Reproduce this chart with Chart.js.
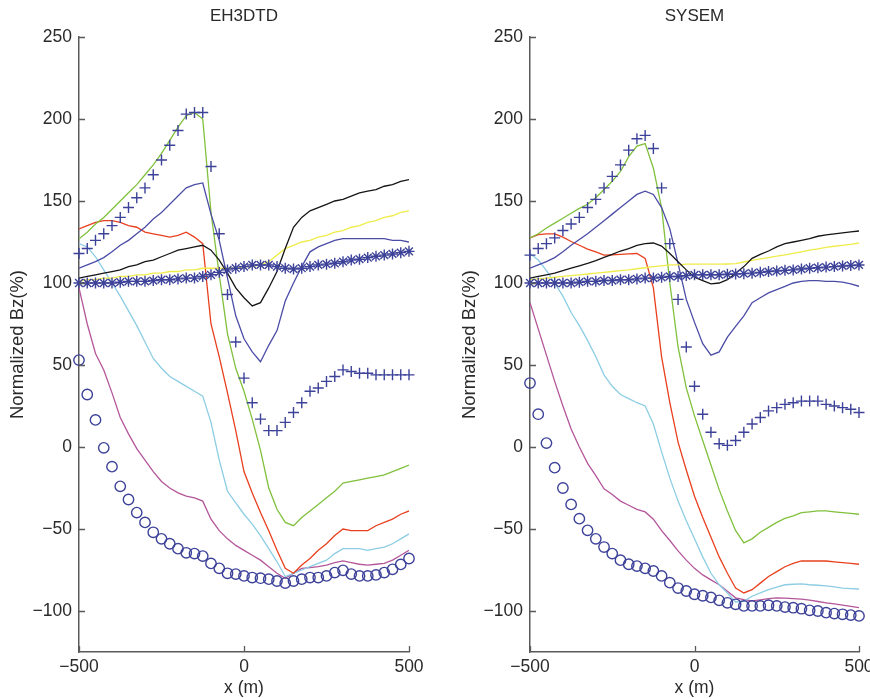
<!DOCTYPE html>
<html>
<head>
<meta charset="utf-8">
<script src="https://cdn.jsdelivr.net/npm/chart.js@4.4.1/dist/chart.umd.min.js"></script>
<style>
  html, body { margin: 0; padding: 0; background: #fff; overflow: hidden; }
  #wrap { position: relative; width: 870px; height: 699px; overflow: hidden; }
  .painel { position: absolute; top: 0; height: 699px; }
  #p1 { left: 0; width: 435px; }
  #p2 { left: 435px; width: 460px; }
</style>
</head>
<body>
<div id="wrap">
  <div class="painel" id="p1"><canvas id="grafico1"></canvas></div>
  <div class="painel" id="p2"><canvas id="grafico2"></canvas></div>
</div>
<script>
const xs = [-500,-475,-450,-425,-400,-375,-350,-325,-300,-275,-250,-225,-200,-175,-150,-125,-100,-75,-50,-25,0,25,50,75,100,125,150,175,200,225,250,275,300,325,350,375,400,425,450,475,500];
const xTicks = [-500, 0, 500];
const yTicks = [-100, -50, 0, 50, 100, 150, 200, 250];

// EH3DTD
const ehPlus = [118,121,126,130,135,140,146,152,158,166,175,184,193,203,204,204,171,130,93,64,42,27,17,10,10,15,21,27,34,36,40,43,47,46,45,45,44,44,44,44,44];
const ehStar = [100,100,100,100,100,100.5,101,101,101,101.5,102,102,102.5,103,103,104,105,106.5,108,109,110,111,111,111,110,109,108.5,109,110,111,111.5,112,113,114,114.5,115.5,116.3,117,117.7,118.5,119.3];
const ehCircle = [53,32,16.5,-0.5,-12,-24,-32,-40,-46,-52,-56,-59,-62,-64.5,-65,-66.5,-71,-74,-77,-77.5,-78.6,-79.6,-80,-80.6,-81.7,-83,-81.7,-80.6,-79.6,-79.6,-78.6,-76.6,-75.2,-77.5,-78.6,-78.6,-78,-76.6,-74.6,-71.6,-68];
const ehBlack = [103,104,105,106,107,108,110,111,113,114,116,118,120,121,122,123,120,114,106,97,91,86,88,97,107,121,134,140,144,146,148,150,151,153,155,156,157,159,160,162,163];
const ehYellow = [101,102,102,103,103,104,104,105,105,106,106,107,107,108,108,109,109,109,109,109,110,110,111,113,117,121,123,125,126,128,129,131,132,134,135,137,138,140,141,143,144];
const ehBlue = [109,111,113,115.5,119,123,126,130,134,139,143,148,153,158,160,161,142,126,103,80,66,58,52,62,71,89,100,110,119,122,124,126,127,127,127,127,127,127,126,126,125];
const ehGreen = [127,131,136,140,145,150,155,160,166,172,179,187,195,202,204,200,143,105,69,48,34,17,-2,-25,-38,-46,-48,-43,-39,-35,-31,-27,-22,-21,-20,-19,-18,-17,-15,-13,-11];
const ehRed = [133,135,137,138,138,137,135,134,131,130,129,128,129,131,128,124,75,55,33,10,-15,-28,-40,-51,-63,-74,-77,-72,-68,-63,-59,-54,-50,-51,-51,-51,-48,-46,-44,-41,-39];
const ehCyan = [124,122,116,108,100,92,83,74,64,54,48,43,40,37,34,31,15,-8,-27,-34,-41,-47,-54,-62,-70,-79,-77,-75,-73,-71,-69,-65,-62,-62,-62,-63,-62,-61,-59,-56,-53];
const ehMagenta = [97,75,57,47,33,18,8,-1,-8,-15,-21,-25,-28,-30,-31,-33,-44,-51,-56,-60,-63,-66,-69,-73,-77,-80,-77,-74,-73.5,-73,-72,-70.5,-69.5,-70.5,-71.5,-72,-71.5,-71,-69,-66,-63];

// SYSEM
const syPlus = [117,121,124,127.5,132,136,140,146,151,158,165,172,181,188,190,182,158,124,90,61,37,20,9,2,1,4,9,14,18,22,24,26,27,28,28,28,26,25,24,23,21];
const syStar = [100,100,100,100,100,100,100.5,101,101,101.5,101.5,102,102,102.5,103,103,103.5,104,104,104.5,105,105,105,105,105.3,105.5,105.7,106,106.5,107,107.3,107.7,108,108.5,109,109.3,109.7,110,110.4,110.7,111];
const syCircle = [39,20,2.4,-12.6,-25,-35,-43.7,-50.8,-56,-61,-65,-69,-71.5,-72.6,-74,-75.6,-78.6,-82.7,-86,-87.8,-89.8,-90.7,-91.7,-93.5,-95,-95.9,-96.9,-96.9,-96.9,-96.5,-96.9,-97.6,-98,-98.6,-99.6,-100,-101,-101.6,-102,-102.5,-103];
const syBlack = [103,104,105,106,107.5,109,110.5,112,113.7,115.6,117.4,119.5,121,123,124,124.4,122.5,118,113,108,103.5,101.5,99.5,100,102,106,110,115,117.5,119.5,122,124,125,126,127,128.5,129.3,130,130.6,131.2,131.7];
const syYellow = [102,102.5,103,103.5,104,104.5,105,105.5,106,106.5,107,107.5,108,108.7,109.3,110,110.5,111,111,111.5,111.5,111.5,111.5,111.5,111.6,111.8,112.8,113.8,114.7,115.5,116.4,117.2,118.1,119,120,120.8,121.7,122.4,123,123.6,124.4];
const syBlue = [109,111,113,115.5,119,123,126.5,130,134,138,142,146,150,154,156,154,146,133,112,90,76,63,56,58,67,73.5,80,88,91,94,96,98,100,101,101.5,101.5,101,101,100.5,99.5,98];
const syGreen = [127.5,130,133.5,136.5,139.5,142.5,145.5,148,152,157,162,168,177,183.5,185,170,146,100,61,36,19,4,-11,-26,-39,-51,-58.5,-56,-52,-49,-46,-43.5,-42,-40,-39.5,-39,-39,-39.5,-40,-40.5,-41];
const syRed = [127.5,129.5,130,130,128,125.3,123,120.7,119,117,117.2,117.5,117.7,118,115,97,55,27,3,-14,-30,-43,-55,-67,-77,-86,-89,-87,-83,-79,-76,-73,-71,-69.5,-69.5,-69.5,-69.5,-70,-70.5,-71,-71.5];
const syCyan = [118,114,107.5,100,92,82,74,65,55,44,37,32,29.5,27,25,14,-3,-19,-33,-45,-56,-67,-77,-84,-89,-94.5,-94,-91,-89,-87,-85.5,-84,-83.7,-83.5,-84,-84.3,-84.7,-85.3,-86,-86.3,-86.6];
const syMagenta = [88,72,56,40,25,11,0,-10,-17.5,-25.5,-29,-33,-35.5,-38,-39.6,-44,-51,-57,-63.3,-69,-74,-78,-81,-84,-88,-92,-93.1,-93.8,-93.2,-92.5,-92,-92.2,-92.4,-92.7,-93.4,-94.2,-95,-95.7,-96.4,-97.2,-98];

const fonte = "'Liberation Sans', Arial, Helvetica, sans-serif";
const corTexto = '#2a2a2a';
const corEixo = '#5a5a5a';
const corMarcador = '#3d4299';

const cores = {
    black: '#151515',
    yellow: '#efec4a',
    blue: '#4b4ca6',
    green: '#80c03c',
    red: '#e8401e',
    cyan: '#8ccde4',
    magenta: '#b4569a'
};

function pontos(valores) {
    return xs.map((x, i) => ({ x: x, y: valores[i] }));
}

function linha(valores, cor) {
    return {
        data: pontos(valores),
        borderColor: cor,
        borderWidth: 1.3,
        pointRadius: 0,
        tension: 0,
        fill: false
    };
}

function marcador(valores, estilo, raio) {
    return {
        data: pontos(valores),
        showLine: false,
        pointStyle: estilo,
        pointRadius: raio,
        pointBorderColor: corMarcador,
        pointBackgroundColor: 'rgba(0,0,0,0)',
        pointBorderWidth: 1.4,
        clip: false
    };
}

function formatar(v) {
    return String(v).replace('-', '\u2212');
}

const ticksDentro = {
    id: 'ticksDentro',
    afterDatasetsDraw(chart) {
        const { ctx, chartArea, scales } = chart;
        ctx.save();
        ctx.strokeStyle = corEixo;
        ctx.lineWidth = 1.3;
        ctx.beginPath();
        yTicks.forEach(v => {
            const y = Math.round(scales.y.getPixelForValue(v)) + 0.5;
            ctx.moveTo(chartArea.left, y);
            ctx.lineTo(chartArea.left + 6, y);
        });
        xTicks.forEach(v => {
            const x = Math.round(scales.x.getPixelForValue(v)) + 0.5;
            ctx.moveTo(x, chartArea.bottom);
            ctx.lineTo(x, chartArea.bottom - 6);
        });
        ctx.stroke();
        ctx.restore();
    }
};

function criarGrafico(id, titulo, s, larguraY, paddingDireita, posTituloY) {
    const datasets = [
        marcador(s.star, 'star', 5.5),
        marcador(s.plus, 'cross', 5.5),
        marcador(s.circle, 'circle', 5.2),
        linha(s.black, cores.black),
        linha(s.yellow, cores.yellow),
        linha(s.blue, cores.blue),
        linha(s.green, cores.green),
        linha(s.red, cores.red),
        linha(s.cyan, cores.cyan),
        linha(s.magenta, cores.magenta)
    ];

    return new Chart(document.getElementById(id), {
        type: 'line',
        data: { datasets },
        options: {
            responsive: true,
            maintainAspectRatio: false,
            animation: false,
            layout: { padding: { left: 0, right: paddingDireita, top: 0, bottom: 0 } },
            plugins: {
                legend: { display: false },
                tooltip: { enabled: false },
                title: {
                    display: true,
                    text: titulo,
                    fullSize: false,
                    color: corTexto,
                    font: { family: fonte, size: 17, weight: 'normal', lineHeight: 1.2 },
                    padding: { top: 6, bottom: 10.6 }
                }
            },
            scales: {
                x: {
                    type: 'linear',
                    min: -500,
                    max: 500,
                    afterBuildTicks: scale => { scale.ticks = xTicks.map(v => ({ value: v })); },
                    afterFit: scale => { scale.height = 47; },
                    grid: { display: false, drawTicks: false },
                    border: { display: true, color: corEixo, width: 1.5 },
                    ticks: {
                        color: corTexto,
                        font: { family: fonte, size: 17.5, lineHeight: 1.2 },
                        padding: 5,
                        maxRotation: 0,
                        autoSkip: false,
                        callback: formatar
                    },
                    title: {
                        display: true,
                        text: 'x (m)',
                        color: corTexto,
                        font: { family: fonte, size: 17.5, lineHeight: 1.2 },
                        padding: { top: 0, bottom: 0 }
                    }
                },
                y: {
                    min: -125,
                    max: 250,
                    afterBuildTicks: scale => { scale.ticks = yTicks.map(v => ({ value: v })); },
                    afterFit: scale => { scale.width = larguraY; },
                    grid: { display: false, drawTicks: false },
                    border: { display: true, color: corEixo, width: 1.5 },
                    ticks: {
                        color: corTexto,
                        font: { family: fonte, size: 17.5, lineHeight: 1.2 },
                        padding: 7,
                        autoSkip: false,
                        callback: formatar
                    },
                    title: {
                        display: true,
                        text: 'Normalized Bz(%)',
                        color: corTexto,
                        font: { family: fonte, size: 18.5, lineHeight: 1.2 },
                        padding: { top: posTituloY, bottom: 0 }
                    }
                }
            }
        },
        plugins: [ticksDentro]
    });
}

criarGrafico('grafico1', 'EH3DTD', {
    plus: ehPlus, star: ehStar, circle: ehCircle, black: ehBlack, yellow: ehYellow,
    blue: ehBlue, green: ehGreen, red: ehRed, cyan: ehCyan, magenta: ehMagenta
}, 79, 26, 7);

criarGrafico('grafico2', 'SYSEM', {
    plus: syPlus, star: syStar, circle: syCircle, black: syBlack, yellow: syYellow,
    blue: syBlue, green: syGreen, red: syRed, cyan: syCyan, magenta: syMagenta
}, 95, 36, 24);
</script>
</body>
</html>
